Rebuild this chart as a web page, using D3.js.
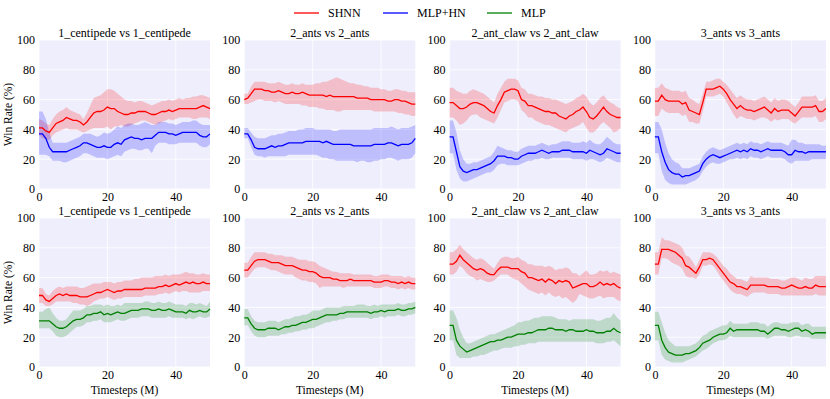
<!DOCTYPE html>
<html>
<head>
<meta charset="utf-8">
<style>
body { margin: 0; background: #fff; }
svg text { font-family: "Liberation Serif", "Times New Roman", Times, "Nimbus Roman", "DejaVu Serif", serif; fill: #000; }
.grid line { stroke: #fff; stroke-width: 0.8px; }
.band { stroke: none; opacity: 0.2; }
.mean { fill: none; stroke-width: 1.3px; }
</style>
</head>
<body>
<script src="https://cdn.jsdelivr.net/npm/d3@7"></script>
<script>

// timesteps (M), one reading per million steps
var steps = d3.range(0, 51);

var titles = ["1_centipede vs 1_centipede", "2_ants vs 2_ants", "2_ant_claw vs 2_ant_claw", "3_ants vs 3_ants"];
var xTicks = [0, 20, 40];
var yTicks = [0, 20, 40, 60, 80, 100];

// ---- top row: SHNN vs MLP+HN ----
var t1_shnn    = [41,41,39,38,41,44,45,46,48,47,46,46,45,43,45,48,51,52,52,53,55,54,54,52,51,50,50,51,51,52,52,52,51,50,50,51,52,52,53,52,53,54,54,54,54,54,54,55,56,55,54];
var t1_shnn_lo = [36,34,33,33,36,38,39,40,41,40,40,40,39,38,39,40,41,41,41,41,42,40,42,42,43,42,42,43,44,45,46,46,45,44,43,44,45,46,47,46,47,48,48,48,48,47,47,48,48,48,47];
var t1_shnn_hi = [47,46,44,43,47,50,52,53,55,53,52,51,50,47,51,56,61,62,63,65,67,67,66,64,62,60,59,59,58,59,59,58,57,56,57,58,59,59,60,59,60,61,60,61,61,62,62,63,63,62,61];
var t1_hn      = [37,37,34,28,25,25,25,25,25,26,27,28,29,31,31,30,29,28,28,29,28,28,30,31,30,33,34,35,34,34,33,34,34,34,36,38,38,38,37,37,36,37,38,38,38,38,38,36,35,35,37];
var t1_hn_lo   = [23,23,23,22,19,19,19,18,18,19,20,21,22,24,24,23,22,21,21,21,20,21,22,23,22,25,26,27,27,26,26,27,27,24,29,31,31,31,30,30,30,31,31,31,31,31,31,29,28,28,30];
var t1_hn_hi   = [52,52,47,38,31,31,31,31,31,32,33,34,35,37,37,37,36,35,36,38,37,38,40,42,41,43,44,44,43,43,44,45,44,43,43,45,45,45,44,44,43,44,45,45,45,46,46,44,43,43,43];

var t2_shnn    = [60,61,64,67,67,67,66,66,65,65,66,65,64,64,65,64,64,65,64,63,63,63,63,63,62,63,62,62,62,62,62,62,62,61,61,61,61,60,60,60,60,60,59,59,60,60,59,59,58,57,57];
var t2_shnn_lo = [57,57,58,59,60,60,59,59,59,58,59,58,57,57,57,57,57,56,56,55,55,55,54,54,53,53,53,52,52,53,53,53,53,53,53,53,53,53,52,52,52,52,52,52,52,51,51,50,50,49,49];
var t2_shnn_hi = [64,64,69,72,72,72,72,71,71,71,72,71,70,70,71,70,70,71,70,70,70,71,71,72,72,73,74,75,74,73,72,71,71,70,70,69,69,68,68,68,67,67,66,66,67,67,66,66,65,65,65];
var t2_hn      = [37,37,33,28,27,27,27,28,29,28,29,29,30,31,31,31,31,31,32,32,32,32,32,31,32,31,30,30,30,30,30,30,29,29,29,29,29,29,30,30,30,30,31,31,30,29,30,30,30,31,34];
var t2_hn_lo   = [34,34,28,23,22,22,21,22,22,22,22,22,22,23,23,23,23,23,23,23,23,23,22,21,21,20,20,19,19,19,19,19,19,18,19,19,18,18,19,19,20,20,21,21,20,19,20,20,20,21,24];
var t2_hn_hi   = [41,41,38,35,34,34,34,35,36,36,37,37,38,39,39,39,40,40,41,41,41,40,40,40,40,40,39,39,40,40,40,40,40,40,40,40,40,40,41,41,41,41,41,42,41,40,41,41,41,42,43];

var t3_shnn    = [58,58,56,54,54,55,57,58,58,57,56,54,52,51,56,60,65,66,67,67,66,60,59,56,56,55,54,53,52,52,51,51,49,48,47,49,50,52,53,55,52,48,47,49,52,55,52,50,49,48,48];
var t3_shnn_lo = [48,48,46,43,44,46,49,50,50,48,47,46,45,44,48,53,58,59,60,60,59,53,51,48,48,46,45,44,43,43,42,41,40,39,38,40,41,42,43,45,41,38,38,40,43,45,43,41,38,39,41];
var t3_shnn_hi = [68,68,66,65,64,64,66,67,66,65,64,62,60,58,64,68,72,74,74,74,73,68,67,64,64,63,62,62,61,61,60,60,59,58,57,58,59,61,62,64,62,58,56,58,61,63,60,58,57,55,54];
var t3_hn      = [35,35,25,15,12,11,12,13,13,14,15,16,17,19,22,22,22,21,21,20,20,22,23,24,24,24,25,26,25,24,25,25,25,26,26,26,25,25,25,25,24,26,25,24,23,24,27,26,25,24,24];
var t3_hn_lo   = [24,24,13,7,5,5,6,7,8,9,10,11,11,13,16,17,17,16,16,16,16,17,18,19,19,20,20,21,20,20,21,21,21,21,21,21,20,20,20,20,19,20,20,19,18,19,21,20,19,18,18];
var t3_hn_hi   = [46,46,38,26,20,17,17,18,18,19,20,21,22,25,29,28,27,26,26,25,25,27,28,29,29,29,30,31,30,29,30,30,31,32,32,32,31,31,31,32,31,33,31,30,30,32,35,33,31,30,30];

var t4_shnn    = [59,59,63,60,59,59,59,59,57,58,53,52,51,50,58,67,67,67,68,69,67,64,60,57,54,56,54,53,53,52,53,54,55,53,51,54,52,53,53,53,51,49,52,55,55,55,55,56,52,52,54];
var t4_shnn_lo = [49,49,54,52,51,51,51,51,49,50,45,45,44,44,52,62,62,62,63,64,62,58,54,50,47,49,48,47,47,46,47,48,48,47,45,47,46,47,47,47,45,44,46,48,48,48,48,49,45,45,47];
var t4_shnn_hi = [68,68,71,68,67,66,66,66,65,66,61,60,58,57,64,72,72,73,74,74,72,70,67,64,61,63,61,60,60,59,60,61,62,60,58,61,59,60,60,59,57,55,58,62,62,62,62,63,59,59,61];
var t4_hn      = [35,35,25,18,13,11,10,10,8,9,9,10,11,12,17,20,22,23,22,21,22,23,24,25,26,25,26,25,27,26,26,25,26,27,26,26,26,26,25,23,23,26,25,25,24,25,25,25,25,25,25];
var t4_hn_lo   = [24,24,12,6,4,3,3,3,3,3,4,5,6,8,12,15,17,18,17,17,18,19,20,20,21,20,21,20,22,21,21,20,21,22,21,21,21,21,20,18,17,19,19,19,19,19,20,20,20,20,20];
var t4_hn_hi   = [45,45,40,31,24,20,18,17,14,14,14,15,16,17,22,25,27,28,27,26,27,28,29,30,31,30,31,30,32,31,31,30,31,32,31,31,31,31,30,29,33,33,31,31,30,30,30,30,30,29,29];

// ---- bottom row: SHNN vs MLP ----
var b1_shnn    = [48,48,45,44,46,48,49,48,49,48,48,48,47,47,47,48,49,50,50,51,52,51,50,51,51,52,52,52,52,52,52,53,53,53,53,54,54,55,54,55,56,55,56,57,56,57,56,56,57,56,56];
var b1_shnn_lo = [43,43,41,41,42,44,44,44,44,44,43,43,42,42,41,42,44,45,46,46,47,46,45,46,46,47,47,47,47,47,47,48,48,48,48,49,49,50,49,50,51,50,51,51,50,50,50,50,51,51,51];
var b1_shnn_hi = [53,53,49,48,51,53,54,53,54,54,54,54,53,53,54,55,56,56,56,57,57,57,56,57,57,58,58,58,59,59,60,60,60,60,61,61,61,62,61,62,62,62,63,64,63,63,62,62,63,62,62];
var b1_mlp     = [31,31,31,31,29,27,26,26,27,29,31,32,32,33,35,35,36,36,37,35,36,35,36,37,36,36,37,38,38,38,39,39,39,38,38,39,38,38,39,38,37,37,37,36,38,37,37,38,37,37,39];
var b1_mlp_lo  = [26,26,26,26,24,21,20,20,21,23,25,27,27,28,30,30,31,31,32,30,30,30,31,32,31,31,32,33,33,33,34,34,34,33,33,33,33,33,34,33,33,33,33,32,33,32,33,34,33,33,34];
var b1_mlp_hi  = [37,37,39,40,36,33,31,31,32,35,38,38,38,39,41,41,42,42,42,41,42,41,41,42,41,43,43,43,43,43,43,44,44,43,43,44,43,43,44,43,42,42,42,41,43,43,42,43,42,41,44];

var b2_shnn    = [65,65,68,71,72,72,72,71,70,70,70,69,68,68,68,67,66,65,65,64,64,63,61,60,60,60,59,59,58,58,58,59,58,58,58,58,58,58,57,57,57,58,58,57,57,56,57,56,57,56,56];
var b2_shnn_lo = [60,60,63,66,67,67,67,66,65,65,64,63,62,62,62,60,59,58,58,57,57,56,53,54,54,54,54,54,54,53,54,54,54,54,54,54,54,54,53,53,53,54,54,53,53,52,53,52,53,52,52];
var b2_shnn_hi = [70,70,74,77,77,77,77,76,76,75,75,75,74,74,74,73,72,72,72,71,71,70,68,67,66,65,64,64,63,63,63,63,62,62,62,62,62,62,61,61,62,62,62,61,61,61,61,60,61,60,60];
var b2_mlp     = [33,33,29,26,25,25,25,26,26,26,25,26,27,27,28,28,29,30,30,31,32,32,33,34,35,35,35,35,36,36,37,37,37,37,37,37,37,36,37,37,38,37,38,38,38,39,38,38,39,39,40];
var b2_mlp_lo  = [28,28,24,21,20,20,20,21,21,21,21,22,22,23,23,24,24,25,25,26,26,27,28,29,30,30,31,31,32,32,33,33,33,33,33,33,33,32,33,33,34,33,34,34,34,35,34,34,35,35,36];
var b2_mlp_hi  = [39,39,34,31,30,30,30,31,31,31,30,31,32,32,33,34,34,35,35,36,38,38,38,39,40,40,40,40,40,41,41,41,41,42,42,42,41,41,42,41,42,42,42,42,42,43,42,42,43,43,44];

var b3_shnn    = [69,69,71,75,72,70,68,66,65,66,65,63,62,62,65,67,67,67,66,66,66,64,63,60,60,59,58,59,57,59,58,56,58,57,58,57,53,54,55,56,56,54,54,55,57,55,56,55,56,54,53];
var b3_shnn_lo = [62,62,64,68,66,63,61,60,58,59,58,57,57,58,60,62,62,62,60,59,58,56,54,52,51,50,49,50,48,50,48,47,48,46,47,45,43,45,49,48,47,46,46,47,48,46,47,47,47,45,44];
var b3_shnn_hi = [77,77,79,82,79,77,75,73,72,73,72,70,68,66,70,73,74,74,73,73,74,72,71,69,69,68,68,68,67,68,67,65,66,66,67,66,63,63,61,63,65,62,62,63,65,64,65,63,64,63,62];
var b3_mlp     = [28,28,18,14,12,10,11,12,13,14,15,16,17,17,18,18,19,20,20,21,22,22,22,23,23,24,25,25,25,26,26,25,25,25,24,25,25,24,24,24,25,24,24,23,23,23,24,24,26,24,23];
var b3_mlp_lo  = [18,18,8,6,6,6,6,7,7,8,8,9,10,11,11,12,13,13,13,14,14,15,15,16,16,16,17,17,17,17,17,17,17,17,17,17,17,17,17,17,17,17,17,16,16,16,17,17,18,16,14];
var b3_mlp_hi  = [38,38,33,25,20,16,16,17,18,19,20,21,22,22,23,24,25,26,27,28,30,30,31,31,32,33,33,34,34,34,34,33,32,32,32,31,32,32,32,32,32,32,32,31,31,32,33,33,36,33,31];

var b4_shnn    = [69,69,79,79,79,78,77,75,73,68,67,65,63,67,72,72,73,72,69,66,63,60,57,56,54,54,53,52,55,55,55,55,55,54,54,54,54,53,53,54,55,54,53,53,54,53,53,55,54,54,54];
var b4_shnn_lo = [62,62,73,73,72,70,69,68,66,61,60,60,59,62,68,68,69,68,65,61,58,55,52,50,49,49,48,47,49,50,50,50,50,49,49,49,49,48,48,48,48,48,48,48,48,48,48,49,48,48,48];
var b4_shnn_hi = [77,77,87,85,85,84,83,82,80,75,74,71,67,72,77,77,77,76,74,71,68,66,63,61,59,59,58,57,61,60,60,60,60,60,59,59,59,58,58,59,60,60,59,58,60,59,59,61,61,61,61];
var b4_mlp     = [28,28,18,13,10,9,8,8,8,9,9,10,11,13,16,17,18,20,21,22,22,23,26,24,25,25,25,25,25,25,25,24,24,22,24,26,26,25,25,24,25,26,26,24,25,24,22,23,23,23,23];
var b4_mlp_lo  = [18,18,8,5,4,3,3,3,3,4,5,6,7,9,11,12,14,16,17,18,18,19,21,20,20,20,20,20,20,20,20,20,20,19,20,21,21,21,21,20,20,21,21,20,20,20,19,19,19,19,19];
var b4_mlp_hi  = [37,37,30,23,18,16,14,14,14,14,14,15,16,18,21,22,24,25,26,27,28,28,31,29,29,29,29,29,30,30,30,29,29,27,29,30,30,29,29,29,30,30,30,28,29,29,27,27,27,27,27];

var width = 830, height = 399;
var plotW = 171, plotH = 149;
var colX = [39, 244.3, 449.6, 654.9];
var rowY = [40, 218];
var serif = "'Liberation Serif', 'Times New Roman', Times, serif";

var colors = { "SHNN": "#ff0000", "MLP+HN": "#0000ff", "MLP": "#008000" };

function s(name, m, lo, hi) { return { name: name, mean: m, lo: lo, hi: hi }; }

var panels = [
  { row: 0, col: 0, series: [s("SHNN", t1_shnn, t1_shnn_lo, t1_shnn_hi), s("MLP+HN", t1_hn, t1_hn_lo, t1_hn_hi)] },
  { row: 0, col: 1, series: [s("SHNN", t2_shnn, t2_shnn_lo, t2_shnn_hi), s("MLP+HN", t2_hn, t2_hn_lo, t2_hn_hi)] },
  { row: 0, col: 2, series: [s("SHNN", t3_shnn, t3_shnn_lo, t3_shnn_hi), s("MLP+HN", t3_hn, t3_hn_lo, t3_hn_hi)] },
  { row: 0, col: 3, series: [s("SHNN", t4_shnn, t4_shnn_lo, t4_shnn_hi), s("MLP+HN", t4_hn, t4_hn_lo, t4_hn_hi)] },
  { row: 1, col: 0, series: [s("SHNN", b1_shnn, b1_shnn_lo, b1_shnn_hi), s("MLP", b1_mlp, b1_mlp_lo, b1_mlp_hi)] },
  { row: 1, col: 1, series: [s("SHNN", b2_shnn, b2_shnn_lo, b2_shnn_hi), s("MLP", b2_mlp, b2_mlp_lo, b2_mlp_hi)] },
  { row: 1, col: 2, series: [s("SHNN", b3_shnn, b3_shnn_lo, b3_shnn_hi), s("MLP", b3_mlp, b3_mlp_lo, b3_mlp_hi)] },
  { row: 1, col: 3, series: [s("SHNN", b4_shnn, b4_shnn_lo, b4_shnn_hi), s("MLP", b4_mlp, b4_mlp_lo, b4_mlp_hi)] }
];

var svg = d3.select("body").append("svg")
    .attr("width", width)
    .attr("height", height)
    .attr("font-family", serif);

var x = d3.scaleLinear().domain([0, 50]).range([0, plotW]);
var y = d3.scaleLinear().domain([0, 100]).range([plotH, 0]);

var area = d3.area()
    .x(function(d) { return x(d.t); })
    .y0(function(d) { return y(d.lo); })
    .y1(function(d) { return y(d.hi); });

var line = d3.line()
    .x(function(d) { return x(d.t); })
    .y(function(d) { return y(d.v); });

panels.forEach(function(p) {
  var g = svg.append("g")
      .attr("transform", "translate(" + colX[p.col] + "," + rowY[p.row] + ")");

  g.append("rect")
      .attr("width", plotW)
      .attr("height", plotH)
      .attr("fill", "#eeeefd");

  // grid
  var grid = g.append("g").attr("class", "grid");
  grid.selectAll(".gx").data(xTicks).enter().append("line")
      .attr("x1", function(d) { return x(d); }).attr("x2", function(d) { return x(d); })
      .attr("y1", 0).attr("y2", plotH);
  grid.selectAll(".gy").data(yTicks).enter().append("line")
      .attr("x1", 0).attr("x2", plotW)
      .attr("y1", function(d) { return y(d); }).attr("y2", function(d) { return y(d); });

  // bands first, then mean lines
  p.series.forEach(function(sr) {
    var pts = steps.map(function(t, i) { return { t: t, lo: sr.lo[i], hi: sr.hi[i] }; });
    g.append("path")
        .datum(pts)
        .attr("class", "band")
        .attr("fill", colors[sr.name])
        .attr("d", area);
  });
  p.series.forEach(function(sr) {
    var pts = steps.map(function(t, i) { return { t: t, v: sr.mean[i] }; });
    g.append("path")
        .datum(pts)
        .attr("class", "mean")
        .attr("stroke", colors[sr.name])
        .attr("d", line);
  });

  // axes (labels only, no ticks or domain)
  var xAxis = g.append("g")
      .attr("transform", "translate(0," + plotH + ")")
      .call(d3.axisBottom(x).tickValues(xTicks).tickSize(0).tickPadding(3));
  var yAxis = g.append("g")
      .call(d3.axisLeft(y).tickValues(yTicks).tickSize(0).tickPadding(4));
  [xAxis, yAxis].forEach(function(ax) {
    ax.attr("font-family", serif).attr("font-size", 12);
    ax.select(".domain").remove();
    ax.selectAll("text").attr("fill", "#000");
  });

  g.append("text")
      .attr("x", plotW / 2)
      .attr("y", -3)
      .attr("text-anchor", "middle")
      .attr("font-size", 12)
      .text(titles[p.col]);

  if (p.col === 0) {
    g.append("text")
        .attr("transform", "translate(-27," + (plotH / 2) + ") rotate(-90)")
        .attr("text-anchor", "middle")
        .attr("font-size", 11.5)
        .text("Win Rate (%)");
  }
  if (p.row === 1) {
    g.append("text")
        .attr("x", plotW / 2)
        .attr("y", plotH + 27)
        .attr("text-anchor", "middle")
        .attr("font-size", 11.5)
        .text("Timesteps (M)");
  }
});

// legend
var legendItems = [
  { name: "SHNN", x: 294 },
  { name: "MLP+HN", x: 383 },
  { name: "MLP", x: 487 }
];
var legend = svg.append("g");
legendItems.forEach(function(it) {
  legend.append("line")
      .attr("x1", it.x).attr("x2", it.x + 25)
      .attr("y1", 13).attr("y2", 13)
      .attr("stroke", colors[it.name])
      .attr("stroke-width", 1.3);
  legend.append("text")
      .attr("x", it.x + 34)
      .attr("y", 17)
      .attr("font-size", 12)
      .text(it.name);
});

</script>
</body>
</html>
